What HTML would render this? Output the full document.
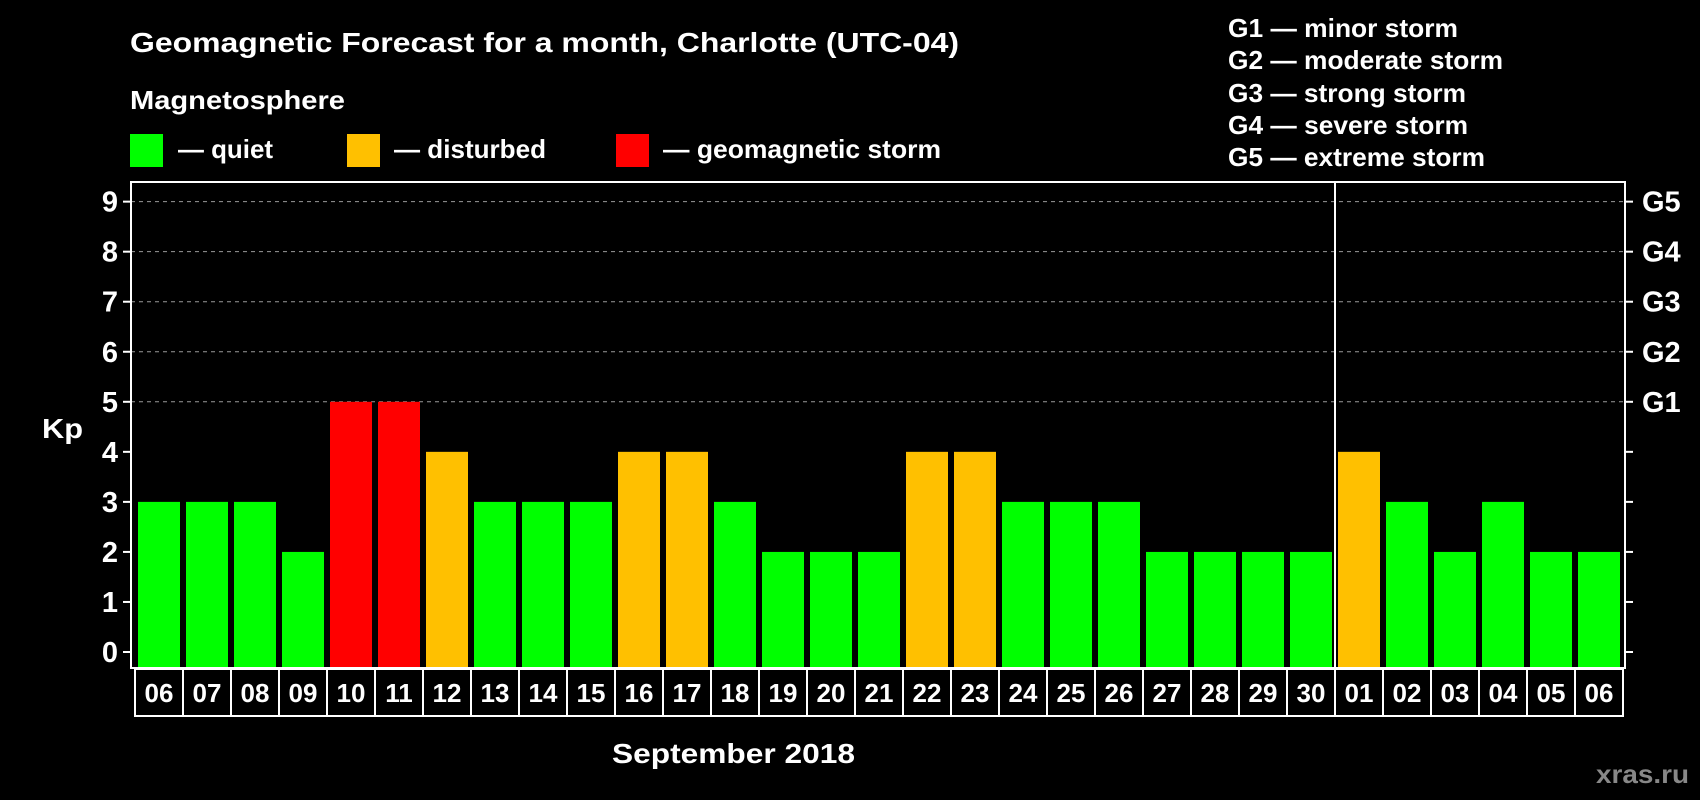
<!DOCTYPE html>
<html><head><meta charset="utf-8"><style>
body{margin:0;background:#000;}
svg{display:block;font-family:"Liberation Sans",Arial,sans-serif;font-weight:bold;}
</style></head><body>
<svg id="c" width="1700" height="800" viewBox="0 0 1700 800">
<rect width="1700" height="800" fill="#000"/>
<text x="130" y="52" fill="#fff" font-size="28" textLength="829" lengthAdjust="spacingAndGlyphs">Geomagnetic Forecast for a month, Charlotte (UTC-04)</text>
<text x="130" y="109" fill="#fff" font-size="26" textLength="215" lengthAdjust="spacingAndGlyphs">Magnetosphere</text>
<g><rect x="130" y="134" width="33" height="33" fill="#00ff00"/><text x="178" y="158" fill="#fff" font-size="26" textLength="95" lengthAdjust="spacingAndGlyphs">— quiet</text></g>
<g><rect x="347" y="134" width="33" height="33" fill="#ffc000"/><text x="394" y="158" fill="#fff" font-size="26" textLength="152" lengthAdjust="spacingAndGlyphs">— disturbed</text></g>
<g><rect x="616" y="134" width="33" height="33" fill="#ff0000"/><text x="663" y="158" fill="#fff" font-size="26" textLength="278" lengthAdjust="spacingAndGlyphs">— geomagnetic storm</text></g>
<g fill="#fff" font-size="26">
<text x="1228" y="37" textLength="230" lengthAdjust="spacingAndGlyphs">G1 — minor storm</text>
<text x="1228" y="69" textLength="275" lengthAdjust="spacingAndGlyphs">G2 — moderate storm</text>
<text x="1228" y="102" textLength="238" lengthAdjust="spacingAndGlyphs">G3 — strong storm</text>
<text x="1228" y="134" textLength="240" lengthAdjust="spacingAndGlyphs">G4 — severe storm</text>
<text x="1228" y="166" textLength="257" lengthAdjust="spacingAndGlyphs">G5 — extreme storm</text>
</g>
<text x="42" y="438" fill="#fff" font-size="28" textLength="41" lengthAdjust="spacingAndGlyphs">Kp</text>
<text x="612" y="763" fill="#fff" font-size="28" textLength="243" lengthAdjust="spacingAndGlyphs">September 2018</text>
<text x="1596" y="783" fill="#888" font-size="26" textLength="93" lengthAdjust="spacingAndGlyphs">xras.ru</text>
<g id="plot"></g>
</svg>
<script>
const days=["06","07","08","09","10","11","12","13","14","15","16","17","18","19","20","21","22","23","24","25","26","27","28","29","30","01","02","03","04","05","06"];
const kp=[3,3,3,2,5,5,4,3,3,3,4,4,3,2,2,2,4,4,3,3,3,2,2,2,2,4,3,2,3,2,2];
const yTicks=[0,1,2,3,4,5,6,7,8,9];
const gLabels=["G1","G2","G3","G4","G5"];
const NS="http://www.w3.org/2000/svg";
const g=document.getElementById('plot');
const L=131,R=1625,T=182,B=668,X0=135,P=48;
const y=v=>652-v*50.04;
const x=i=>X0+i*P;
function mk(t,a,p){const e=document.createElementNS(NS,t);for(const k in a)e.setAttribute(k,a[k]);(p||g).appendChild(e);return e;}
yTicks.forEach(v=>{
 if(v>=5){const l=mk('line',{x1:L,x2:R,y1:y(v),y2:y(v),stroke:'#999','stroke-dasharray':'4,4','stroke-width':1});
 
 }
 const t=mk('text',{x:118,y:y(v)+10,fill:'#fff','font-size':29,'text-anchor':'end'});t.textContent=v;
 
 
 mk('line',{x1:L-8,x2:L,y1:y(v),y2:y(v),stroke:'#fff','stroke-width':2});
 mk('line',{x1:R,x2:R+8,y1:y(v),y2:y(v),stroke:'#fff','stroke-width':2});
});
gLabels.forEach((s,i)=>{const t=mk('text',{x:1642,y:y(5+i)+10,fill:'#fff','font-size':29});t.textContent=s;
 
 });
const col=v=>v>=5?'#ff0000':(v>=4?'#ffc000':'#00ff00');
kp.forEach((v,i)=>{
 const r=mk('rect',{x:x(i)+3,y:y(v),width:42,height:B-y(v),fill:col(v)});
 
 
 const b=mk('rect',{x:x(i),y:B+1,width:P,height:47,fill:'none',stroke:'#fff','stroke-width':2});
 
 
 const t=mk('text',{x:x(i)+P/2,y:B+34,fill:'#fff','font-size':26,'text-anchor':'middle'});t.textContent=days[i];
 
 
});
const f=mk('rect',{x:L,y:T,width:R-L,height:B-T,fill:'none',stroke:'#fff','stroke-width':2});


const sep=mk('line',{x1:x(25),x2:x(25),y1:T,y2:B,stroke:'#fff','stroke-width':2});


</script>
</body></html>
